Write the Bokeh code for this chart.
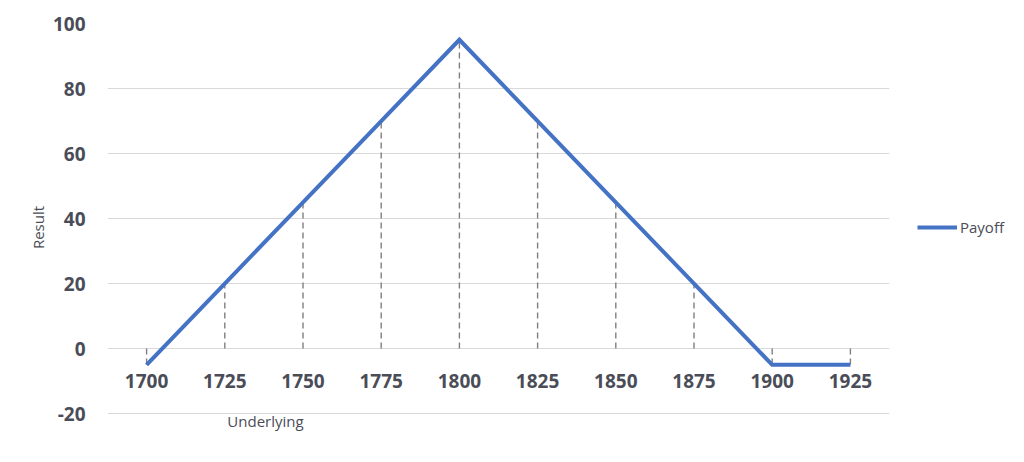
from bokeh.plotting import figure
from bokeh.models import Range1d, FixedTicker, Legend, LegendItem, Label
from bokeh.core.properties import value
from bokeh.embed import file_html
from bokeh.resources import INLINE

categories = ["1700", "1725", "1750", "1775", "1800", "1825", "1850", "1875", "1900", "1925"]
payoff = [-5, 20, 45, 70, 95, 70, 45, 20, -5, -5]
y_ticks = [-20, 0, 20, 40, 60, 80, 100]
y_tick_labels = ["-20", "0", "20", "40", "60", "80", "100"]

FONT = "Open Sans"
TXT = "#4a4d57"
GRID = "#d9d9d9"
BLUE = "#4472C4"

idx = list(range(len(categories)))

p = figure(frame_width=782, frame_height=408, output_backend="svg", toolbar_location=None,
           x_range=Range1d(-0.5, len(categories) - 0.5), y_range=Range1d(-25.5, 100),
           min_border_left=107, min_border_right=119, min_border_top=23, min_border_bottom=15)
p.outline_line_color = None
p.background_fill_color = "white"
p.border_fill_color = "white"

# grid
p.xgrid.visible = False
p.ygrid.grid_line_color = GRID
p.ygrid.grid_line_width = 1.2

# y axis
p.yaxis.ticker = FixedTicker(ticks=y_ticks)
p.yaxis.major_label_overrides = {t: s for t, s in zip(y_ticks, y_tick_labels)}
p.yaxis.axis_line_color = None
p.yaxis.major_tick_line_color = None
p.yaxis.minor_tick_line_color = None
p.yaxis.major_tick_out = 0
p.yaxis.major_tick_in = 0
p.yaxis.major_label_standoff = 22
p.yaxis.major_label_text_font = FONT
p.yaxis.major_label_text_font_size = "19px"
p.yaxis.major_label_text_font_style = "bold"
p.yaxis.major_label_text_color = TXT
p.yaxis.axis_label = "Result"
p.yaxis.axis_label_text_font = FONT
p.yaxis.axis_label_text_font_style = "normal"
p.yaxis.axis_label_text_font_size = "15px"
p.yaxis.axis_label_text_color = TXT
p.yaxis.axis_label_standoff = 2

# x axis: labels drawn at the zero line
p.xaxis.visible = False
p.text(x=idx, y=[0] * len(idx), text=categories, y_offset=32,
       text_font=value(FONT), text_font_size="19px", text_font_style="bold",
       text_color=TXT, text_align="center", text_baseline="middle")

# drop lines
p.segment(x0=idx, y0=[0] * len(idx), x1=idx, y1=payoff,
          line_color="#7f7f7f", line_width=1.4, line_dash="6 4")

# main line
r = p.line(idx, payoff, line_color=BLUE, line_width=4, line_join="miter")

p.add_layout(Label(x=1.52, y=-22.2, text="Underlying", text_font=FONT, text_font_size="15px",
                   text_color=TXT, text_align="center", text_baseline="middle"))

legend = Legend(items=[LegendItem(label="Payoff", renderers=[r])], location="left")
legend.border_line_color = None
legend.background_fill_alpha = 0
legend.padding = 0
legend.margin = 28
legend.spacing = 0
legend.glyph_width = 40
legend.glyph_height = 20
legend.label_standoff = 3
legend.label_text_font = FONT
legend.label_text_font_size = "15px"
legend.label_text_color = TXT
p.add_layout(legend, "right")

open("out.html", "w").write(file_html(p, INLINE))
